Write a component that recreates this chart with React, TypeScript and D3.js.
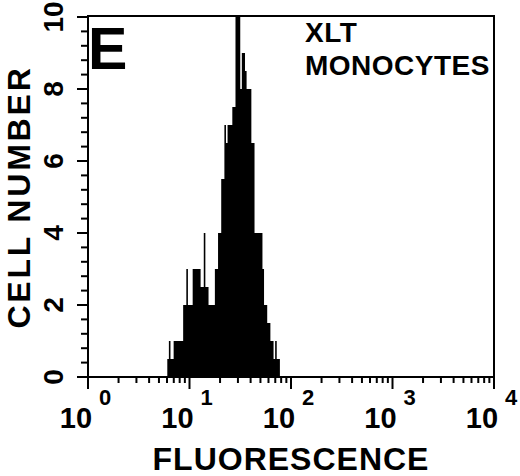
import React from "react";
import * as d3 from "d3";

// ---- data ----
const yTickValues = [0, 2, 4, 6, 8, 10];
const yMinorStep = 0.4;
const xDecades = [0, 1, 2, 3, 4];
const channelsPerDecade = 64;
const firstChannel = 50;
const cellCounts = [
  0.5, 1, 0.5, 0.5, 1, 1, 1, 1, 1, 1,
  2, 2, 3, 2, 2, 2, 3, 3, 3, 3,
  3, 2.5, 2.5, 4, 2.5, 2.5, 2, 2, 2, 2,
  3, 3, 4, 4, 5.5, 5.5, 7, 6.5, 7, 7,
  7, 7.5, 7.5, 10, 10, 10, 8, 9, 9, 8.5,
  8, 8, 8, 6.5, 6.5, 4, 4, 4, 4, 4,
  3, 2, 2, 1.5, 1.5, 1, 1, 0.5, 1, 0.5, 0.5,
];
const yAxisTitle = "CELL NUMBER";
const xAxisTitle = "FLUORESCENCE";
const panelLetter = "E";
const annotationLines = ["XLT", "MONOCYTES"];

const W = 520;
const H = 476;
const FONT = "'Liberation Sans', Arial, Helvetica, sans-serif";

export default function App() {
  const left = 88, right = 494, top = 17, bottom = 377;
  const x = d3.scaleLog().domain([1, 10000]).range([left, right]);
  const y = d3.scaleLinear().domain([0, 10]).range([bottom, top]);

  const pts: [number, number][] = cellCounts.map((v, i) => [
    Math.pow(10, (firstChannel + i) / channelsPerDecade),
    v,
  ]);
  pts.push([Math.pow(10, (firstChannel + cellCounts.length) / channelsPerDecade), 0]);
  const area = d3
    .area<[number, number]>()
    .x((d) => x(d[0]))
    .y0(y(0))
    .y1((d) => y(d[1]))
    .curve(d3.curveStepAfter);

  const yMinor = d3.range(0, 10 + 1e-6, yMinorStep);
  const xMinor: number[] = [];
  for (let d = 0; d < 4; d++) for (let k = 2; k <= 9; k++) xMinor.push(k * Math.pow(10, d));

  const cx = (left + right) / 2;
  const cy = (top + bottom) / 2;

  return (
    <svg
      width={W}
      height={H}
      style={{ position: "fixed", left: 0, top: 0, background: "#fff" }}
      fontFamily={FONT}
      fontWeight="bold"
    >
      <rect x={0} y={0} width={W} height={H} fill="#fff" />
      <path d={area(pts) || ""} fill="#000" stroke="none" />
      <rect x={left} y={top - 1} width={right - left} height={bottom - top + 1} fill="none" stroke="#000" strokeWidth={2} />

      {/* y ticks */}
      {yMinor.map((v, i) => {
        const major = Math.abs(v / 2 - Math.round(v / 2)) < 1e-6;
        return (
          <line key={"ym" + i} x1={left} x2={left - (major ? 11 : 7)} y1={y(v)} y2={y(v)} stroke="#000" strokeWidth={2} />
        );
      })}
      {yTickValues.map((v) => (
        <text
          key={"yl" + v}
          transform={`translate(63,${y(v)}) rotate(-90)`}
          textAnchor="middle"
          fontSize={28}
        >
          {v}
        </text>
      ))}

      {/* x ticks */}
      {xMinor.map((v, i) => (
        <line key={"xm" + i} x1={x(v)} x2={x(v)} y1={bottom} y2={bottom + 6} stroke="#000" strokeWidth={2} />
      ))}
      {xDecades.map((d) => {
        const tx = x(Math.pow(10, d));
        return (
          <g key={"xd" + d}>
            <line x1={tx} x2={tx} y1={bottom} y2={bottom + 12} stroke="#000" strokeWidth={2} />
            <text x={tx - 12} y={428} textAnchor="middle" fontSize={29}>10</text>
            <text x={tx + 11} y={405} textAnchor="start" fontSize={22}>{d}</text>
          </g>
        );
      })}

      <text
        transform={`translate(30,${cy}) rotate(-90)`}
        textAnchor="middle"
        fontSize={32}
        letterSpacing={2.8}
      >
        {yAxisTitle}
      </text>
      <text x={cx} y={470} textAnchor="middle" fontSize={32} letterSpacing={1}>
        {xAxisTitle}
      </text>

      <text x={88} y={69} fontSize={59}>{panelLetter}</text>
      <text x={305} y={42} fontSize={28} letterSpacing={0.5}>{annotationLines[0]}</text>
      <text x={305} y={75} fontSize={28} letterSpacing={0.5}>{annotationLines[1]}</text>
    </svg>
  );
}
